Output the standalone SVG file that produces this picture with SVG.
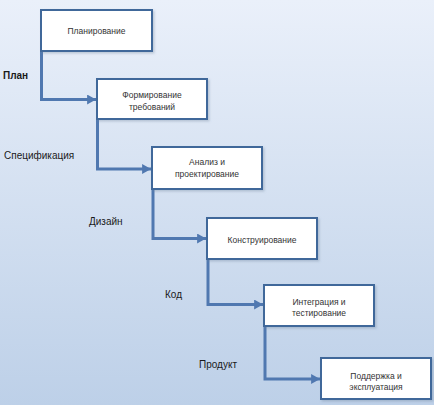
<svg xmlns="http://www.w3.org/2000/svg" width="434" height="405" viewBox="0 0 434 405">
<defs>
<linearGradient id="bg" x1="0" y1="0" x2="0" y2="1">
<stop offset="0" stop-color="#eaf0fa"/>
<stop offset="1" stop-color="#bdd0e8"/>
</linearGradient>
<marker id="arr" markerUnits="userSpaceOnUse" markerWidth="10" markerHeight="10" viewBox="0 0 8 9" refX="8" refY="4.5" orient="auto">
<path d="M0,0 L8,4.5 L0,9 z" fill="#5078b0"/>
</marker>
<filter id="sh" x="-10%" y="-10%" width="130%" height="140%">
<feDropShadow dx="1.5" dy="1.5" stdDeviation="1" flood-color="#6a7f99" flood-opacity="0.35"/>
</filter>
</defs>
<style>
.box{fill:#ffffff;stroke:#41679a;stroke-width:2;filter:url(#sh)}
.bt{font-family:"Liberation Sans",Arial,sans-serif;font-size:8.5px;fill:#333;text-anchor:middle}
.lbl{font-family:"Liberation Sans",Arial,sans-serif;font-size:10px;fill:#1a1a1a}
.con{fill:none;stroke:#5078b0;stroke-width:3;marker-end:url(#arr)}
</style>
<rect x="0" y="0" width="434" height="405" fill="url(#bg)"/>
<g id="connectors">
<path class="con" d="M41.5 51 V99.5 H96"/>
<path class="con" d="M97.5 119 V169 H151"/>
<path class="con" d="M153 189 V238.5 H206"/>
<path class="con" d="M208 259 V304.5 H263"/>
<path class="con" d="M265 326 V379 H320"/>
</g>
<g id="n1"><rect class="box" x="41" y="10" width="111" height="41"/><text class="bt" x="96.5" y="33.5">Планирование</text></g>
<g id="n2"><rect class="box" x="97" y="79" width="110" height="40"/><text class="bt" x="152" y="98">Формирование</text><text class="bt" x="152" y="110">требований</text></g>
<g id="n3"><rect class="box" x="152" y="147" width="110" height="42"/><text class="bt" x="207" y="165">Анализ и</text><text class="bt" x="207" y="177">проектирование</text></g>
<g id="n4"><rect class="box" x="207" y="218" width="110" height="41"/><text class="bt" x="262" y="243">Конструирование</text></g>
<g id="n5"><rect class="box" x="264" y="285" width="110" height="41"/><text class="bt" x="319" y="305">Интеграция и</text><text class="bt" x="319" y="316">тестирование</text></g>
<g id="n6"><rect class="box" x="321" y="358" width="110" height="41"/><text class="bt" x="376" y="379">Поддержка и</text><text class="bt" x="376" y="390">эксплуатация</text></g>
<g id="labels">
<text class="lbl" x="3" y="79" font-weight="bold" font-size="11">План</text>
<text class="lbl" x="4" y="159">Спецификация</text>
<text class="lbl" x="89" y="225">Дизайн</text>
<text class="lbl" x="165" y="298">Код</text>
<text class="lbl" x="199" y="368">Продукт</text>
</g>
</svg>
